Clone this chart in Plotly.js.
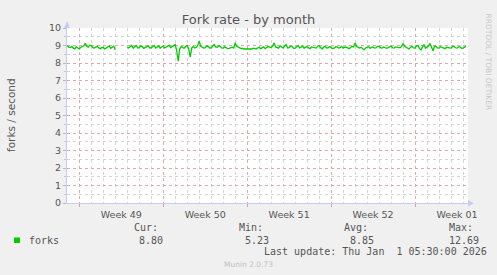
<!DOCTYPE html>
<html><head><meta charset="utf-8">
<script src="https://cdn.plot.ly/plotly-3.0.1.min.js"></script>
<style>html,body{margin:0;padding:0;background:#f0f0f0;}#chart{width:497px;height:275px;}</style>
</head><body><div id="chart"></div>
<script>
// ---- data (3-hourly averages) ----
const times = [
"2025-11-30 00:00","2025-11-30 03:00","2025-11-30 06:00","2025-11-30 09:00","2025-11-30 12:00","2025-11-30 15:00","2025-11-30 18:00","2025-11-30 21:00",
"2025-12-01 00:00","2025-12-01 03:00","2025-12-01 06:00","2025-12-01 09:00","2025-12-01 12:00","2025-12-01 15:00","2025-12-01 18:00","2025-12-01 21:00",
"2025-12-02 00:00","2025-12-02 03:00","2025-12-02 06:00","2025-12-02 09:00","2025-12-02 12:00","2025-12-02 15:00","2025-12-02 18:00","2025-12-02 21:00",
"2025-12-03 00:00","2025-12-03 03:00","2025-12-03 06:00","2025-12-03 09:00","2025-12-03 12:00","2025-12-03 15:00","2025-12-03 18:00","2025-12-03 21:00",
"2025-12-04 00:00","2025-12-04 03:00","2025-12-04 06:00","2025-12-04 09:00","2025-12-04 12:00","2025-12-04 15:00","2025-12-04 18:00","2025-12-04 21:00",
"2025-12-05 00:00","2025-12-05 03:00","2025-12-05 06:00","2025-12-05 09:00","2025-12-05 12:00","2025-12-05 15:00","2025-12-05 18:00","2025-12-05 21:00",
"2025-12-06 00:00","2025-12-06 03:00","2025-12-06 06:00","2025-12-06 09:00","2025-12-06 12:00","2025-12-06 15:00","2025-12-06 18:00","2025-12-06 21:00",
"2025-12-07 00:00","2025-12-07 03:00","2025-12-07 06:00","2025-12-07 09:00","2025-12-07 12:00","2025-12-07 15:00","2025-12-07 18:00","2025-12-07 21:00",
"2025-12-08 00:00","2025-12-08 03:00","2025-12-08 06:00","2025-12-08 09:00","2025-12-08 12:00","2025-12-08 15:00","2025-12-08 18:00","2025-12-08 21:00",
"2025-12-09 00:00","2025-12-09 03:00","2025-12-09 06:00","2025-12-09 09:00","2025-12-09 12:00","2025-12-09 15:00","2025-12-09 18:00","2025-12-09 21:00",
"2025-12-10 00:00","2025-12-10 03:00","2025-12-10 06:00","2025-12-10 09:00","2025-12-10 12:00","2025-12-10 15:00","2025-12-10 18:00","2025-12-10 21:00",
"2025-12-11 00:00","2025-12-11 03:00","2025-12-11 06:00","2025-12-11 09:00","2025-12-11 12:00","2025-12-11 15:00","2025-12-11 18:00","2025-12-11 21:00",
"2025-12-12 00:00","2025-12-12 03:00","2025-12-12 06:00","2025-12-12 09:00","2025-12-12 12:00","2025-12-12 15:00","2025-12-12 18:00","2025-12-12 21:00",
"2025-12-13 00:00","2025-12-13 03:00","2025-12-13 06:00","2025-12-13 09:00","2025-12-13 12:00","2025-12-13 15:00","2025-12-13 18:00","2025-12-13 21:00",
"2025-12-14 00:00","2025-12-14 03:00","2025-12-14 06:00","2025-12-14 09:00","2025-12-14 12:00","2025-12-14 15:00","2025-12-14 18:00","2025-12-14 21:00",
"2025-12-15 00:00","2025-12-15 03:00","2025-12-15 06:00","2025-12-15 09:00","2025-12-15 12:00","2025-12-15 15:00","2025-12-15 18:00","2025-12-15 21:00",
"2025-12-16 00:00","2025-12-16 03:00","2025-12-16 06:00","2025-12-16 09:00","2025-12-16 12:00","2025-12-16 15:00","2025-12-16 18:00","2025-12-16 21:00",
"2025-12-17 00:00","2025-12-17 03:00","2025-12-17 06:00","2025-12-17 09:00","2025-12-17 12:00","2025-12-17 15:00","2025-12-17 18:00","2025-12-17 21:00",
"2025-12-18 00:00","2025-12-18 03:00","2025-12-18 06:00","2025-12-18 09:00","2025-12-18 12:00","2025-12-18 15:00","2025-12-18 18:00","2025-12-18 21:00",
"2025-12-19 00:00","2025-12-19 03:00","2025-12-19 06:00","2025-12-19 09:00","2025-12-19 12:00","2025-12-19 15:00","2025-12-19 18:00","2025-12-19 21:00",
"2025-12-20 00:00","2025-12-20 03:00","2025-12-20 06:00","2025-12-20 09:00","2025-12-20 12:00","2025-12-20 15:00","2025-12-20 18:00","2025-12-20 21:00",
"2025-12-21 00:00","2025-12-21 03:00","2025-12-21 06:00","2025-12-21 09:00","2025-12-21 12:00","2025-12-21 15:00","2025-12-21 18:00","2025-12-21 21:00",
"2025-12-22 00:00","2025-12-22 03:00","2025-12-22 06:00","2025-12-22 09:00","2025-12-22 12:00","2025-12-22 15:00","2025-12-22 18:00","2025-12-22 21:00",
"2025-12-23 00:00","2025-12-23 03:00","2025-12-23 06:00","2025-12-23 09:00","2025-12-23 12:00","2025-12-23 15:00","2025-12-23 18:00","2025-12-23 21:00",
"2025-12-24 00:00","2025-12-24 03:00","2025-12-24 06:00","2025-12-24 09:00","2025-12-24 12:00","2025-12-24 15:00","2025-12-24 18:00","2025-12-24 21:00",
"2025-12-25 00:00","2025-12-25 03:00","2025-12-25 06:00","2025-12-25 09:00","2025-12-25 12:00","2025-12-25 15:00","2025-12-25 18:00","2025-12-25 21:00",
"2025-12-26 00:00","2025-12-26 03:00","2025-12-26 06:00","2025-12-26 09:00","2025-12-26 12:00","2025-12-26 15:00","2025-12-26 18:00","2025-12-26 21:00",
"2025-12-27 00:00","2025-12-27 03:00","2025-12-27 06:00","2025-12-27 09:00","2025-12-27 12:00","2025-12-27 15:00","2025-12-27 18:00","2025-12-27 21:00",
"2025-12-28 00:00","2025-12-28 03:00","2025-12-28 06:00","2025-12-28 09:00","2025-12-28 12:00","2025-12-28 15:00","2025-12-28 18:00","2025-12-28 21:00",
"2025-12-29 00:00","2025-12-29 03:00","2025-12-29 06:00","2025-12-29 09:00","2025-12-29 12:00","2025-12-29 15:00","2025-12-29 18:00","2025-12-29 21:00",
"2025-12-30 00:00","2025-12-30 03:00","2025-12-30 06:00","2025-12-30 09:00","2025-12-30 12:00","2025-12-30 15:00","2025-12-30 18:00","2025-12-30 21:00",
"2025-12-31 00:00","2025-12-31 03:00","2025-12-31 06:00","2025-12-31 09:00","2025-12-31 12:00","2025-12-31 15:00","2025-12-31 18:00","2025-12-31 21:00",
"2026-01-01 00:00","2026-01-01 03:00","2026-01-01 06:00","2026-01-01 09:00","2026-01-01 12:00","2026-01-01 15:00","2026-01-01 18:00","2026-01-01 21:00",
"2026-01-02 00:00","2026-01-02 03:00","2026-01-02 06:00"
];
const forks = [
9.00,8.90,8.88,8.95,8.85,8.80,8.92,8.86,
8.80,8.90,8.95,8.98,9.12,8.95,8.90,9.02,
9.00,8.88,8.85,8.92,8.95,8.86,8.82,8.88,
8.90,8.80,8.85,8.93,8.98,8.84,8.88,8.96,
8.75,null,null,null,null,null,null,null,
8.90,8.86,8.95,9.00,8.85,8.92,9.00,8.86,
8.88,8.97,8.95,8.84,8.90,8.96,8.98,8.86,
8.87,8.94,9.00,8.85,8.92,8.97,8.85,8.90,
8.97,8.86,8.90,8.95,9.02,8.88,8.95,8.98,
9.05,8.70,8.10,8.80,8.95,8.88,8.85,8.95,
9.00,8.80,8.35,8.85,8.95,8.86,8.90,9.00,
9.25,8.95,8.92,8.85,8.88,8.97,8.95,8.86,
8.87,8.95,9.05,8.92,8.90,8.98,8.95,8.86,
8.85,8.92,8.88,8.82,8.83,8.86,8.90,8.85,
9.15,8.95,8.90,8.86,8.82,8.84,8.80,8.81,
8.80,8.83,8.82,8.80,8.85,8.82,8.80,8.86,
8.90,8.82,8.85,8.92,8.82,8.87,8.95,8.90,
8.88,8.96,9.15,8.92,8.90,8.85,8.98,8.90,
8.85,8.97,9.05,8.86,8.88,8.95,8.95,8.84,
8.85,8.93,9.00,8.86,8.90,8.95,8.85,8.90,
8.95,8.86,8.82,8.92,8.90,8.84,8.85,8.96,
9.00,8.88,8.80,8.90,8.95,8.86,8.87,8.94,
8.90,8.83,8.85,8.92,8.92,8.85,8.88,8.95,
8.85,8.90,8.90,8.84,8.82,8.88,8.95,8.92,
9.15,8.94,8.88,8.85,8.90,8.82,8.75,8.86,
8.90,8.93,8.85,8.90,8.92,8.85,8.87,8.95,
8.95,8.88,8.85,8.92,8.90,8.84,8.88,8.94,
8.97,8.87,8.85,8.92,8.90,8.86,8.87,8.95,
9.10,8.96,8.90,8.85,8.80,8.90,8.95,8.86,
8.85,8.98,9.00,8.82,8.75,8.92,9.05,8.85,
8.90,8.98,9.12,8.90,8.70,8.96,8.95,8.86,
8.85,8.93,8.88,8.84,8.82,8.90,8.90,8.86,
8.85,8.94,8.95,8.87,8.85,8.92,8.92,8.84,
8.85,8.90,8.95
];
const seriesName = "forks";
const statHeaders = ["Cur:","Min:","Avg:","Max:"];
const statValues = ["8.80","5.23","8.85","12.69"];
const xRange = ["2025-11-29 23:24","2026-01-02 10:00"];
const yRange = [0,10];

// ---- geometry helpers (pixel -> paper) ----
const W=497,H=275,L=67,R=29,T=28,B=72;
const PW=W-L-R, PH=H-T-B;
const px=x=>(x-L)/PW, py=y=>(H-B-y)/PH;

const mono={family:"DejaVu Sans Mono",size:10,color:"#555"};
const ann=[];
function txt(t,x,y,font,extra){ann.push(Object.assign({text:t,x:px(x),y:py(y),xref:"paper",yref:"paper",showarrow:false,xanchor:"left",yanchor:"middle",font:font},extra||{}));}
const hx=[131.7,236.7,342.3,446.7], vx=[137.3,242.7,348.3,447.3];
statHeaders.forEach((s,i)=>txt(s,hx[i],227.7,mono));
statValues.forEach((s,i)=>txt(s,vx[i],240,mono));
txt(seriesName,26.7,240,mono);
txt("Last update: Thu Jan \u00a01 05:30:00 2026",261.7,251.7,mono);
txt("Munin 2.0.73",248.5,264,{family:"DejaVu Sans",size:7.5,color:"#c0c0c0"},{xanchor:"center"});
txt("RRDTOOL / TOBI OETIKER",488.5,62,{family:"DejaVu Sans",size:7.5,color:"#c8c8c8"},{xanchor:"center",textangle:90});
txt("forks / second",10.5,115.5,{family:"DejaVu Sans",size:10.5,color:"#555"},{xanchor:"center",textangle:-90});

const axisBlue="#c4ccf4";
const shapes=[
 {type:"rect",xref:"paper",yref:"paper",x0:px(14),x1:px(20),y0:py(243),y1:py(237.5),fillcolor:"#00cc00",line:{width:0}},
 {type:"path",xref:"paper",yref:"paper",path:`M ${px(64)} ${py(28)} L ${px(70)} ${py(28)} L ${px(67)} ${py(21)} Z`,fillcolor:axisBlue,line:{width:0}},
 {type:"path",xref:"paper",yref:"paper",path:`M ${px(468)} ${py(200)} L ${px(468)} ${py(206.6)} L ${px(474)} ${py(203.3)} Z`,fillcolor:axisBlue,line:{width:0}}
];

const data=[{x:times,y:forks,type:"scatter",mode:"lines",line:{color:"#00cc00",width:1.3},connectgaps:false,hoverinfo:"skip"}];
const layout={
 width:W,height:H,margin:{l:L,r:R,t:T,b:B,pad:0},
 paper_bgcolor:"#f0f0f0",plot_bgcolor:"#ffffff",showlegend:false,
 title:{text:"Fork rate - by month",xref:"container",x:0.5,xanchor:"center",yref:"container",y:1-19/H,yanchor:"middle",font:{family:"DejaVu Sans",size:13,color:"#555"}},
 xaxis:{type:"date",range:xRange,tick0:"2025-12-01",dtick:604800000,tickformat:"Week %V",ticklabelmode:"period",
   showgrid:true,gridcolor:"#e0a8a8",griddash:"dot",gridwidth:1,ticks:"outside",ticklen:3,tickcolor:"#e0a0a0",
   minor:{tick0:"2025-12-01",dtick:86400000,showgrid:true,gridcolor:"#d4d4d4",griddash:"dot",gridwidth:1},
   showline:true,linecolor:axisBlue,linewidth:1,zeroline:false,fixedrange:true,
   tickfont:{family:"DejaVu Sans",size:9.5,color:"#555"}},
 yaxis:{range:yRange,dtick:1,tick0:0,showgrid:true,gridcolor:"#e0a8a8",griddash:"dot",gridwidth:1,
   ticks:"outside",ticklen:3,tickcolor:"#b8b8c8",
   minor:{dtick:0.5,showgrid:true,gridcolor:"#d4d4d4",griddash:"dot",ticks:"outside",ticklen:2,tickcolor:"#c8c8d8"},
   showline:true,linecolor:axisBlue,linewidth:1,zeroline:false,fixedrange:true,
   tickfont:{family:"DejaVu Sans",size:9.5,color:"#555"}},
 annotations:ann,shapes:shapes
};
Plotly.newPlot("chart",data,layout,{staticPlot:true,displayModeBar:false});
</script></body></html>
